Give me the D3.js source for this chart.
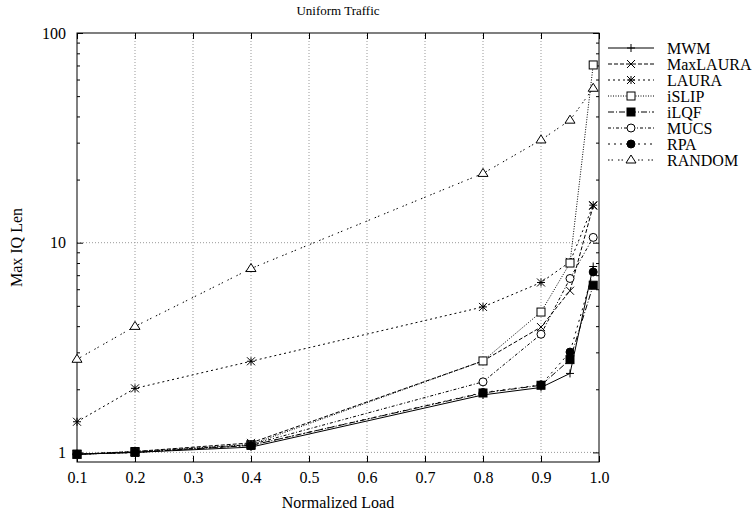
<!DOCTYPE html>
<html lang="en">
<head>
<meta charset="utf-8">
<title>Uniform Traffic</title>
<script src="https://d3js.org/d3.v7.min.js"></script>
<style>
  body { margin: 0; background: #fff; }
  svg text { font-family: "Liberation Serif", "Times New Roman", serif; fill: #000; }
</style>
</head>
<body>
<svg id="chart" width="755" height="518"></svg>
<script>
// data
var loads = [0.1, 0.2, 0.4, 0.8, 0.9, 0.95, 0.99];
var seriesNames = ["MWM", "MaxLAURA", "LAURA", "iSLIP", "iLQF", "MUCS", "RPA", "RANDOM"];
var mwm      = [0.98, 1.00, 1.06, 1.88, 2.04, 2.38, 7.7];
var maxlaura = [0.98, 1.01, 1.11, 2.73, 3.96, 5.9, 15.0];
var laura    = [1.40, 2.02, 2.72, 4.94, 6.46, 8.1, 15.1];
var islip    = [0.98, 1.01, 1.09, 2.73, 4.67, 8.0, 70.4];
var ilqf     = [0.98, 1.00, 1.08, 1.92, 2.09, 2.77, 6.27];
var mucs     = [0.98, 1.00, 1.09, 2.17, 3.66, 6.75, 10.6];
var rpa      = [0.98, 1.00, 1.08, 1.93, 2.10, 3.01, 7.25];
var random   = [2.78, 3.99, 7.53, 21.4, 30.9, 38.4, 54.5];
var xTicks = [0.1, 0.2, 0.3, 0.4, 0.5, 0.6, 0.7, 0.8, 0.9, 1.0];
var yTicks = [1, 10, 100];

var allValues = [mwm, maxlaura, laura, islip, ilqf, mucs, rpa, random];
// gnuplot style line dashes and point types
var dashes = ["none", "4,2", "2,3", "1,1.5", "6,2,1,2", "3,2,1,2", "2,4", "1.5,2,1.5,5"];
var markers = ["plus", "cross", "star", "square", "fsquare", "circle", "fcircle", "triangle"];

var pLeft = 77, pRight = 599, pTop = 33, pBottom = 462;
var svg = d3.select("#chart");

var x = d3.scaleLinear().domain([0.1, 1.0]).range([pLeft, pRight]);
var y = d3.scaleLog().domain([0.9, 100]).range([pBottom, pTop]);

// grid
var grid = svg.append("g").attr("stroke", "#999").attr("stroke-dasharray", "1,2").attr("stroke-width", 1);
xTicks.slice(1, -1).forEach(function(t) {
  grid.append("line").attr("x1", x(t)).attr("x2", x(t)).attr("y1", pBottom).attr("y2", pTop);
});
yTicks.slice(0, -1).forEach(function(t) {
  grid.append("line").attr("x1", pLeft).attr("x2", pRight).attr("y1", y(t)).attr("y2", y(t));
});

// minor y ticks
var minor = [];
[1, 10].forEach(function(d) { for (var k = 2; k <= 9; k++) minor.push(d * k); });

function styleAxis(g) {
  g.select(".domain").remove();
  g.selectAll(".tick line").attr("stroke", "#000");
  g.selectAll("text").style("font-size", "16px").style("font-family", "Liberation Serif");
}

svg.append("g").attr("transform", "translate(0," + pBottom + ")")
  .call(d3.axisBottom(x).tickValues(xTicks).tickFormat(d3.format(".1f")).tickSize(-6).tickPadding(10))
  .call(styleAxis);
svg.append("g").attr("transform", "translate(0," + pTop + ")")
  .call(d3.axisTop(x).tickValues(xTicks).tickFormat("").tickSize(-6))
  .call(styleAxis);
svg.append("g").attr("transform", "translate(" + pLeft + ",0)")
  .call(d3.axisLeft(y).tickValues(yTicks).tickFormat(d3.format("d")).tickSize(-6).tickPadding(11))
  .call(styleAxis);
svg.append("g").attr("transform", "translate(" + pLeft + ",0)")
  .call(d3.axisLeft(y).tickValues(minor).tickFormat("").tickSize(-3))
  .call(styleAxis);
svg.append("g").attr("transform", "translate(" + pRight + ",0)")
  .call(d3.axisRight(y).tickValues(yTicks).tickFormat("").tickSize(-6))
  .call(styleAxis);
svg.append("g").attr("transform", "translate(" + pRight + ",0)")
  .call(d3.axisRight(y).tickValues(minor).tickFormat("").tickSize(-3))
  .call(styleAxis);

// border
svg.append("rect").attr("x", pLeft).attr("y", pTop)
  .attr("width", pRight - pLeft).attr("height", pBottom - pTop)
  .attr("fill", "none").attr("stroke", "#000").attr("stroke-width", 1);

function drawMarker(g, type, cx, cy) {
  var s = 4;
  if (type == "plus" || type == "star") {
    g.append("path").attr("d", "M" + (cx - s) + "," + cy + "H" + (cx + s) + "M" + cx + "," + (cy - s) + "V" + (cy + s))
      .attr("stroke", "#000").attr("fill", "none");
  }
  if (type == "cross" || type == "star") {
    g.append("path").attr("d", "M" + (cx - s) + "," + (cy - s) + "L" + (cx + s) + "," + (cy + s) + "M" + (cx - s) + "," + (cy + s) + "L" + (cx + s) + "," + (cy - s))
      .attr("stroke", "#000").attr("fill", "none");
  }
  if (type == "square" || type == "fsquare") {
    g.append("rect").attr("x", cx - s).attr("y", cy - s).attr("width", 2 * s).attr("height", 2 * s)
      .attr("stroke", "#000").attr("fill", type == "fsquare" ? "#000" : "#fff");
  }
  if (type == "circle" || type == "fcircle") {
    g.append("circle").attr("cx", cx).attr("cy", cy).attr("r", s)
      .attr("stroke", "#000").attr("fill", type == "fcircle" ? "#000" : "#fff");
  }
  if (type == "triangle") {
    g.append("path").attr("d", "M" + cx + "," + (cy - s - 1) + "L" + (cx + s + 1) + "," + (cy + s - 1) + "L" + (cx - s - 1) + "," + (cy + s - 1) + "Z")
      .attr("stroke", "#000").attr("fill", "#fff");
  }
}

var line = d3.line().x(function(d) { return x(d[0]); }).y(function(d) { return y(d[1]); });

var plot = svg.append("g");
allValues.forEach(function(vals, i) {
  var pts = loads.map(function(l, j) { return [l, vals[j]]; });
  plot.append("path").datum(pts).attr("d", line)
    .attr("fill", "none").attr("stroke", "#000").attr("stroke-width", 1)
    .attr("stroke-dasharray", dashes[i]);
});
allValues.forEach(function(vals, i) {
  var g = plot.append("g");
  loads.forEach(function(l, j) { drawMarker(g, markers[i], x(l), y(vals[j])); });
});

// legend
var legend = svg.append("g");
seriesNames.forEach(function(name, i) {
  var ly = 48 + i * 16;
  legend.append("line").attr("x1", 608).attr("x2", 654).attr("y1", ly).attr("y2", ly)
    .attr("stroke", "#000").attr("stroke-dasharray", dashes[i]);
  drawMarker(legend, markers[i], 631, ly);
  legend.append("text").attr("x", 667).attr("y", ly + 5.5).style("font-size", "16px").text(name);
});

// titles
svg.append("text").attr("x", (pLeft + pRight) / 2).attr("y", 15).attr("text-anchor", "middle")
  .style("font-size", "13px").text("Uniform Traffic");
svg.append("text").attr("x", (pLeft + pRight) / 2).attr("y", 508).attr("text-anchor", "middle")
  .style("font-size", "16px").text("Normalized Load");
svg.append("text").attr("transform", "translate(22," + ((pTop + pBottom) / 2) + ") rotate(-90)")
  .attr("text-anchor", "middle").style("font-size", "16px").text("Max IQ Len");
</script>
</body>
</html>
